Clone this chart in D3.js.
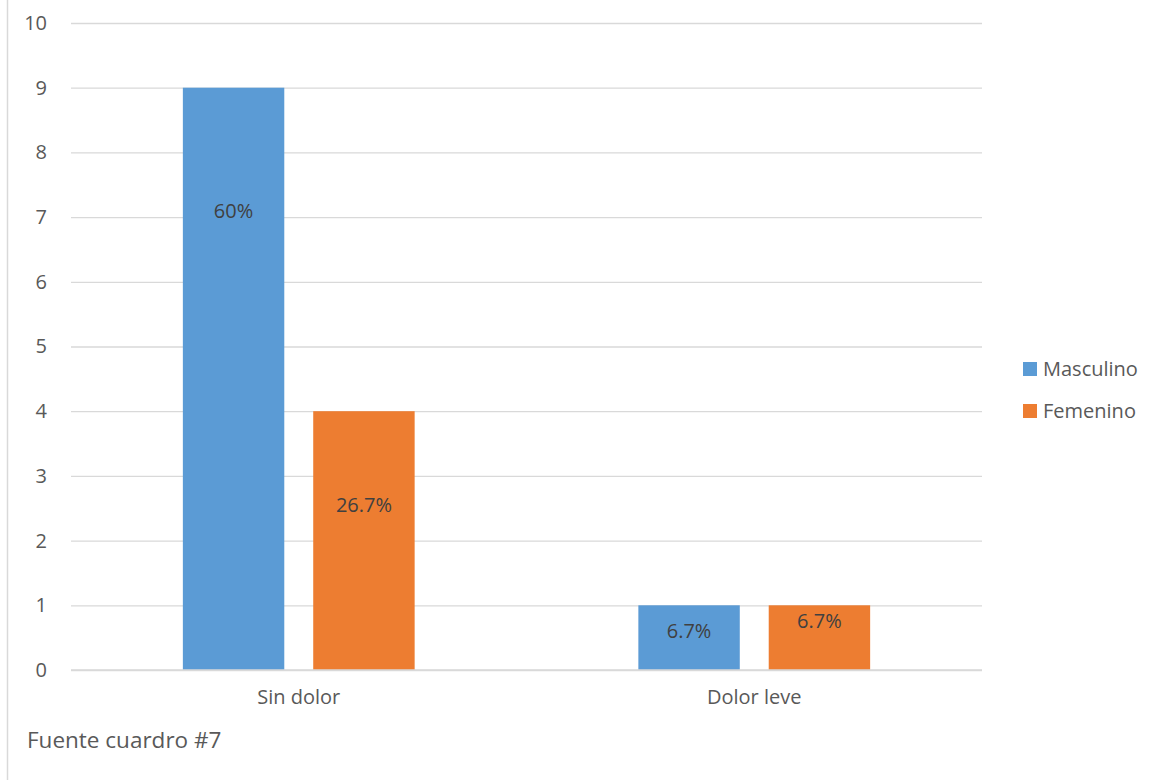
<!DOCTYPE html>
<html><head><meta charset="utf-8">
<script src="https://cdn.jsdelivr.net/npm/d3@7"></script>
<style>body{margin:0;background:#fff;} svg{display:block;}</style>
</head><body>
<script>
const categories = ["Sin dolor", "Dolor leve"];
const seriesNames = ["Masculino", "Femenino"];
const masculino = [9, 1];
const femenino = [4, 1];
const masculinoLabels = ["60%", "6.7%"];
const femeninoLabels = ["26.7%", "6.7%"];
const masculinoLabelAt = [7.1, 0.6];
const femeninoLabelAt = [2.55, 0.75];
const yTicks = [0,1,2,3,4,5,6,7,8,9,10];
const colors = ["#5b9bd5", "#ed7d31"];
const note = "Fuente cuardro #7";

(function(){
const W = 1167, H = 780;
const font = "'Open Sans', sans-serif";
const fs = 20;
const svg = d3.select("body").append("svg").attr("width", W).attr("height", H);

svg.append("line").attr("x1", 7.5).attr("x2", 7.5).attr("y1", 0).attr("y2", H)
  .attr("stroke", "#d9d9d9").attr("stroke-width", 1.5);

const mLeft = 71, mRight = 982, mTop = 23, mBottom = 670;
const y = d3.scaleLinear().domain([0, 10]).range([mBottom, mTop]);
const x0 = d3.scaleBand().domain(categories).range([mLeft, mRight]).paddingInner(0).paddingOuter(0);
const x1 = d3.scaleBand().domain(seriesNames).range([0, x0.bandwidth()]).paddingInner(0.222).paddingOuter(0.858);

const yAxis = d3.axisLeft(y).tickValues(yTicks).tickSize(-(mRight - mLeft)).tickPadding(24).tickFormat(d3.format("d"));
const gy = svg.append("g").attr("transform", `translate(${mLeft},0)`).call(yAxis);
gy.select(".domain").remove();
gy.selectAll(".tick line").attr("stroke", "#d9d9d9").attr("stroke-width", 1.3);
gy.selectAll(".tick text").attr("fill", "#595959").attr("font-family", font).attr("font-size", fs);

const series = [
  {name: seriesNames[0], values: masculino, labels: masculinoLabels, at: masculinoLabelAt, color: colors[0]},
  {name: seriesNames[1], values: femenino, labels: femeninoLabels, at: femeninoLabelAt, color: colors[1]}
];

series.forEach(s => {
  const g = svg.append("g");
  categories.forEach((c, i) => {
    g.append("rect")
      .attr("x", x0(c) + x1(s.name))
      .attr("y", y(s.values[i]))
      .attr("width", x1.bandwidth())
      .attr("height", y(0) - y(s.values[i]))
      .attr("fill", s.color);
    g.append("text")
      .attr("x", x0(c) + x1(s.name) + x1.bandwidth() / 2)
      .attr("y", y(s.at[i]))
      .attr("dy", "0.35em")
      .attr("text-anchor", "middle")
      .attr("fill", "#404040")
      .attr("font-family", font).attr("font-size", fs)
      .text(s.labels[i]);
  });
});

svg.append("line").attr("x1", mLeft).attr("x2", mRight).attr("y1", y(0)).attr("y2", y(0))
  .attr("stroke", "#d9d9d9").attr("stroke-width", 1.3);

const xAxis = d3.axisBottom(x0).tickSize(0).tickPadding(20);
const gx = svg.append("g").attr("transform", `translate(0,${mBottom})`).call(xAxis);
gx.select(".domain").remove();
gx.selectAll(".tick text").attr("fill", "#595959").attr("font-family", font).attr("font-size", fs);

const lg = svg.append("g").attr("transform", "translate(1023,362)");
seriesNames.forEach((n, i) => {
  lg.append("rect").attr("x", 0).attr("y", i * 42).attr("width", 14).attr("height", 14).attr("fill", colors[i]);
  lg.append("text").attr("x", 20).attr("y", i * 42 + 7).attr("dy", "0.35em")
    .attr("fill", "#595959").attr("font-family", font).attr("font-size", fs).text(n);
});

svg.append("text").attr("x", 27).attr("y", 740).attr("dy", "0.35em")
  .attr("fill", "#595959").attr("font-family", font).attr("font-size", 22.5).text(note);
})();
</script>
</body></html>
